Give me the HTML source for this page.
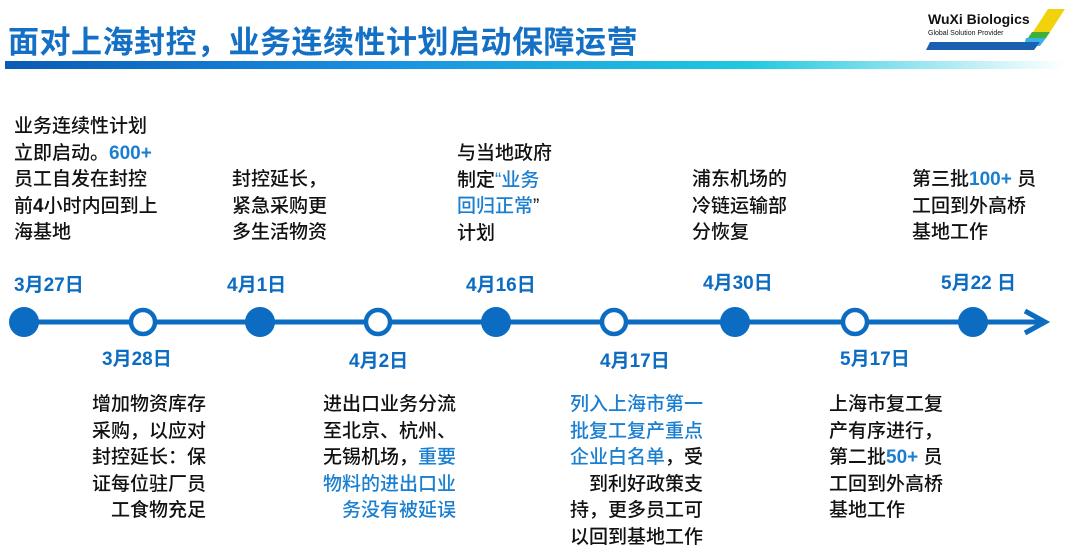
<!DOCTYPE html>
<html><head><meta charset="utf-8"><style>
body{margin:0;width:1080px;height:555px;background:#fff;position:relative;overflow:hidden;font-family:"Liberation Sans","Noto Sans CJK SC",sans-serif;}
.t{position:absolute;font-size:19px;line-height:26.6px;color:#111;white-space:nowrap;font-weight:500;}
.r{text-align:right}
.b{color:#1a7fd0}
.n{font-weight:bold}
.d{position:absolute;font-size:19px;font-weight:bold;color:#0b6cc2;white-space:nowrap;}
</style></head><body>
<div style="position:absolute;left:8px;top:17px;font-size:31px;font-weight:bold;color:#1470c4;letter-spacing:0.5px;white-space:nowrap">面对上海封控，业务连续性计划启动保障运营</div>
<div style="position:absolute;left:5px;top:61px;width:1060px;height:8px;background:linear-gradient(90deg,#0a5bb5,#1a8fe0 35%,#20c8e0 70%,#fff)"></div>
<svg style="position:absolute;left:900px;top:4px" width="170" height="50">
<polygon points="148,5 165,5 150,28 133,28" fill="#f2d20a"/>
<polygon points="132,28 150,28 146,34 128,34" fill="#3fae3a"/>
<polygon points="126,34 146,34 140,42 124,42" fill="#3ab0e8"/>
<polygon points="30,38 140,38 134,46 26,46" fill="#1a5fb0"/>
<text x="28" y="20" font-family="Liberation Sans" font-weight="bold" font-size="14" fill="#111">WuXi Biologics</text>
<text x="28" y="31" font-family="Liberation Sans" font-size="7" fill="#111">Global Solution Provider</text>
</svg>

<svg style="position:absolute;left:0;top:0" width="1080" height="555">
<line x1="24" y1="322" x2="1044" y2="322" stroke="#0b6cc2" stroke-width="5"/>
<polyline points="1025,311 1045,322 1025,333" fill="none" stroke="#0b6cc2" stroke-width="5"/>
<g fill="#0b6cc2">
<circle cx="24" cy="322" r="15"/><circle cx="260" cy="322" r="15"/><circle cx="496" cy="322" r="15"/><circle cx="735" cy="322" r="15"/><circle cx="973" cy="322" r="15"/>
</g>
<g fill="#fff" stroke="#0b6cc2" stroke-width="4.5">
<circle cx="143" cy="322" r="12"/><circle cx="378" cy="322" r="12"/><circle cx="614" cy="322" r="12"/><circle cx="855" cy="322" r="12"/>
</g>
</svg>

<div class="d" style="left:14px;top:270px">3月27日</div>
<div class="d" style="left:227px;top:270px">4月1日</div>
<div class="d" style="left:466px;top:270px">4月16日</div>
<div class="d" style="left:703px;top:268px">4月30日</div>
<div class="d" style="left:941px;top:268px">5月22 日</div>
<div class="d" style="left:102px;top:344px">3月28日</div>
<div class="d" style="left:349px;top:346px">4月2日</div>
<div class="d" style="left:600px;top:346px">4月17日</div>
<div class="d" style="left:840px;top:344px">5月17日</div>

<div class="t" style="left:14px;top:114px">业务连续性计划<br>立即启动。<span class="b n">600+</span><br>员工自发在封控<br>前<span class="n">4</span>小时内回到上<br>海基地</div>
<div class="t" style="left:232px;top:167px">封控延长，<br>紧急采购更<br>多生活物资</div>
<div class="t" style="left:457px;top:141px">与当地政府<br>制定<span class="b">“业务</span><br><span class="b">回归正常</span>”<br>计划</div>
<div class="t" style="left:692px;top:167px">浦东机场的<br>冷链运输部<br>分恢复</div>
<div class="t" style="left:912px;top:167px">第三批<span class="b n">100+</span> 员<br>工回到外高桥<br>基地工作</div>

<div class="t r" style="right:874px;top:392px">增加物资库存<br>采购，以应对<br>封控延长：保<br>证每位驻厂员<br>工食物充足</div>
<div class="t r" style="right:624px;top:392px">进出口业务分流<br>至北京、杭州、<br>无锡机场，<span class="b">重要</span><br><span class="b">物料的进出口业</span><br><span class="b">务没有被延误</span></div>
<div class="t r" style="right:377px;top:392px"><span class="b">列入上海市第一</span><br><span class="b">批复工复产重点</span><br><span class="b">企业白名单</span>，受<br>到利好政策支<br>持，更多员工可<br>以回到基地工作</div>
<div class="t" style="left:829px;top:392px">上海市复工复<br>产有序进行，<br>第二批<span class="b n">50+</span> 员<br>工回到外高桥<br>基地工作</div>
</body></html>
